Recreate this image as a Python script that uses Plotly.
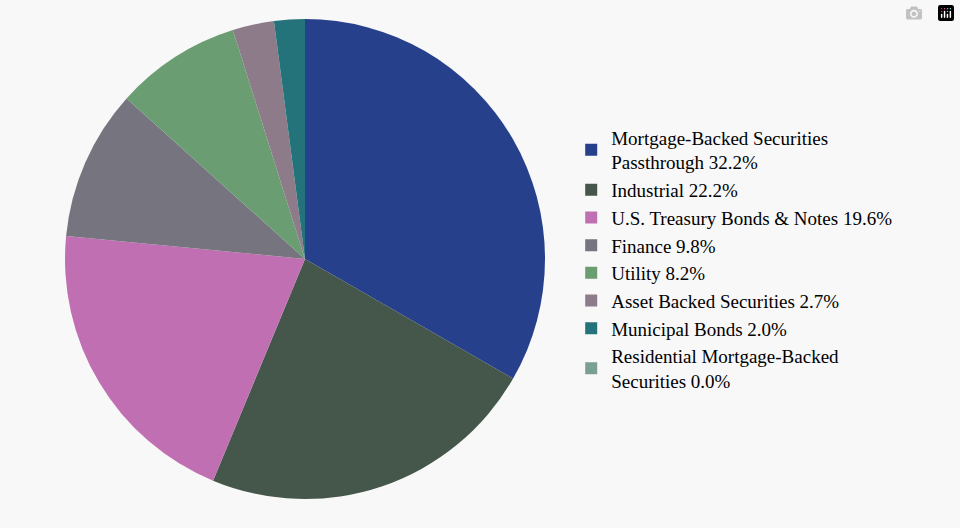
import plotly.graph_objects as go

labels = ["Mortgage-Backed Securities<br>Passthrough 32.2%", "Industrial 22.2%",
          "U.S. Treasury Bonds & Notes 19.6%", "Finance 9.8%", "Utility 8.2%",
          "Asset Backed Securities 2.7%", "Municipal Bonds 2.0%",
          "Residential Mortgage-Backed<br>Securities 0.0%"]
values = [32.2, 22.2, 19.6, 9.8, 8.2, 2.7, 2.0, 0.0]
colors = ["#26408c", "#44574a", "#c070b2", "#76757f", "#6a9d72", "#8e7b89", "#24737a", "#7a9f94"]

fig = go.Figure(go.Pie(labels=labels, values=values, sort=False, direction="clockwise",
                       rotation=0, marker=dict(colors=colors), textinfo="none",
                       hoverinfo="label", domain=dict(x=[65/960, 545/960], y=[0, 1])))
fig.update_layout(width=960, height=528, margin=dict(l=0, r=0, t=19, b=29),
                  paper_bgcolor="#f8f8f8", plot_bgcolor="#f8f8f8",
                  font=dict(family="Liberation Serif", size=19, color="#000"),
                  legend=dict(x=0.595, y=0.5, yanchor="middle", xanchor="left",
                              bgcolor="rgba(0,0,0,0)"))
fig.write_html("out.html")
with open("out.html") as f:
    html = f.read()
html = html.replace("<body>", '<body style="margin:0">', 1)
with open("out.html", "w") as f:
    f.write(html)
